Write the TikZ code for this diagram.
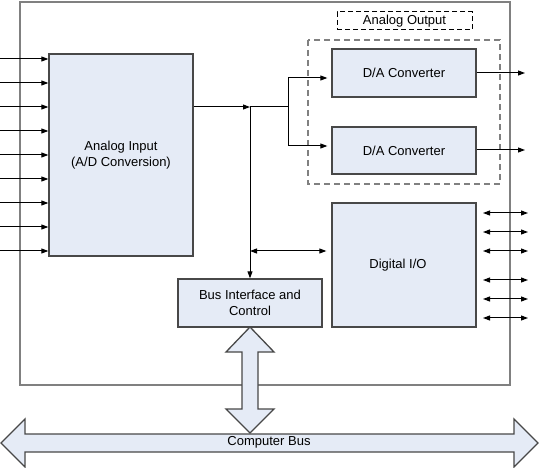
\documentclass[tikz,border=0pt]{standalone}
\usepackage{fontspec}
\setmainfont{Liberation Sans}
\usetikzlibrary{arrows.meta}
\definecolor{boxfill}{RGB}{229,235,246}
\definecolor{boxline}{RGB}{72,72,72}
\definecolor{boardline}{RGB}{128,128,128}
\begin{document}
\begin{tikzpicture}[x=1pt,y=-1pt,
  blk/.style={draw=boxline, fill=boxfill, line width=1.3pt, inner sep=0pt, align=center,
    font=\fontsize{13}{16}\selectfont},
  arr/.style={draw=black, line width=1pt, -{Triangle[length=7pt,width=5pt]}},
  darr/.style={draw=black, line width=1pt, {Triangle[length=7pt,width=5pt]}-{Triangle[length=7pt,width=5pt]}},
  plain/.style={draw=black, line width=1pt},
  bigarrow/.style={draw=boxline, fill=boxfill, line width=1.3pt, line join=miter},
  lbl/.style={font=\fontsize{13}{16}\selectfont, inner sep=0pt}
]
\useasboundingbox (0,0) rectangle (539,468);
% board
\draw[boardline, line width=1.6pt] (20,2) rectangle (510,385);
% computer bus
\draw[bigarrow] (1,443) -- (25,419) -- (25,434) -- (514,434) -- (514,419) -- (538,443)
  -- (514,467) -- (514,452) -- (25,452) -- (25,467) -- cycle;
\node[lbl] (cbus) at (269,442) {Computer Bus};
% vertical bus arrow
\draw[bigarrow] (250,327) -- (274,352) -- (258,352) -- (258,409) -- (274,409) -- (250,433)
  -- (226,409) -- (242,409) -- (242,352) -- (226,352) -- cycle;
% analog output group
\draw[boardline, line width=1.8pt, dash pattern=on 6pt off 4pt] (308,40) rectangle (500,184);
\node[draw=black, line width=1pt, dash pattern=on 5pt off 3pt, minimum width=135pt, minimum height=18pt, lbl] (aolbl) at (404.5,21) {Analog Output};
% boxes
\node[blk, minimum width=144pt, minimum height=202pt] (ai) at (121,155) {Analog Input\\(A/D Conversion)};
\node[blk, minimum width=144pt, minimum height=48pt] (da1) at (404,73) {D/A Converter};
\node[blk, minimum width=144pt, minimum height=47pt] (da2) at (404,150.5) {D/A Converter};
\node[blk, minimum width=144pt, minimum height=124pt] (dio) at (404,265) {\hspace*{-12pt}Digital I/O};
\node[blk, minimum width=144pt, minimum height=48pt] (bi) at (250,303) {Bus Interface and\\Control};
% analog inputs
\foreach \i/\yy in {1/59,2/83,3/107,4/131,5/155,6/179,7/203,8/227,9/251}{
  \coordinate (in\i) at (0,\yy);
  \draw[arr] (in\i) -- (ai.west |- in\i);
}
% internal bus
\coordinate (j1) at (250,107);
\coordinate (j2) at (288,107);
\coordinate (b1) at (288,78);
\coordinate (b2) at (288,146);
\coordinate (j3) at (250,251);
\draw[arr] (ai.east |- j1) -- (j1);
\draw[plain] (j1) -- (j2);
\draw[plain] (b1) -- (b2);
\draw[arr, shorten >=4pt] (b1) -- (da1.west |- b1);
\draw[arr, shorten >=4pt] (b2) -- (da2.west |- b2);
\draw[arr] (j1) -- (bi.north);
\draw[darr, shorten >=5pt] (j3) -- (dio.west |- j3);
% analog outputs
\coordinate (o1) at (525,73);
\coordinate (o2) at (525,150);
\draw[arr] (da1.east |- o1) -- (o1);
\draw[arr] (da2.east |- o2) -- (o2);
% digital lines
\foreach \i/\yy in {1/213,2/232,3/251,4/280,5/299,6/318}{
  \coordinate (dl\i) at (483,\yy);
  \coordinate (dr\i) at (528,\yy);
  \draw[darr] (dl\i) -- (dr\i);
}
\end{tikzpicture}
\end{document}
